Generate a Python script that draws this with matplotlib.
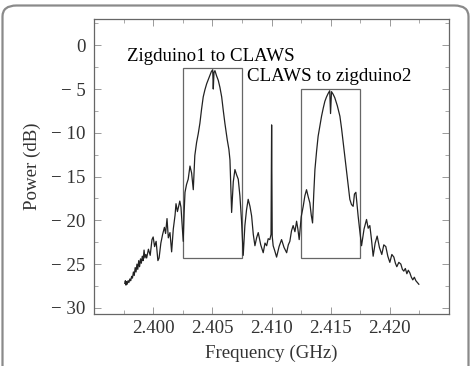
import matplotlib
matplotlib.use("Agg")
import matplotlib.pyplot as plt
from matplotlib.patches import FancyBboxPatch, Rectangle
from matplotlib.ticker import MultipleLocator

plt.rcParams['font.family'] = ['Liberation Serif', 'DejaVu Serif']
plt.rcParams['font.size'] = 13.6

# 측정 스펙트럼 (GHz, dB)
freq = [2.39760, 2.39765, 2.39770, 2.39775, 2.39780, 2.39788, 2.39795, 2.39803,
        2.39810, 2.39818, 2.39825, 2.39833, 2.39840, 2.39848, 2.39855, 2.39863,
        2.39870, 2.39878, 2.39885, 2.39893, 2.39900, 2.39908, 2.39915, 2.39923,
        2.39930, 2.39938, 2.39945, 2.39960, 2.39975, 2.39990, 2.40000, 2.40012,
        2.40025, 2.40040, 2.40050, 2.40065, 2.40080, 2.40095, 2.40105, 2.40117,
        2.40128, 2.40142, 2.40156, 2.40170, 2.40185, 2.40193, 2.40205, 2.40212,
        2.40225, 2.40235, 2.40245, 2.40254, 2.40262, 2.40269, 2.40282, 2.40296,
        2.40305, 2.40311, 2.40325, 2.40339, 2.40352, 2.40367, 2.40381, 2.40395,
        2.40409, 2.40423, 2.40437, 2.40452, 2.40466, 2.40480, 2.40492, 2.40503,
        2.40508, 2.40514, 2.40522, 2.40536, 2.40550, 2.40564, 2.40579, 2.40592,
        2.40606, 2.40626, 2.40640, 2.40649, 2.40656, 2.40663, 2.40677, 2.40691,
        2.40705, 2.40719, 2.40733, 2.40747, 2.40761, 2.40775, 2.40789, 2.40803,
        2.40818, 2.40832, 2.40846, 2.40860, 2.40874, 2.40888, 2.40909, 2.40930,
        2.40945, 2.40959, 2.40972, 2.40986, 2.40996, 2.41001, 2.41006, 2.41014,
        2.41028, 2.41043, 2.41064, 2.41085, 2.41106, 2.41128, 2.41142, 2.41155,
        2.41169, 2.41183, 2.41198, 2.41212, 2.41223, 2.41234, 2.41251, 2.41268,
        2.41282, 2.41296, 2.41310, 2.41324, 2.41336, 2.41347, 2.41357, 2.41367,
        2.41381, 2.41394, 2.41409, 2.41423, 2.41437, 2.41451, 2.41465, 2.41479,
        2.41492, 2.41499, 2.41507, 2.41521, 2.41535, 2.41556, 2.41578, 2.41592,
        2.41606, 2.41620, 2.41634, 2.41648, 2.41662, 2.41676, 2.41690, 2.41701,
        2.41713, 2.41722, 2.41732, 2.41746, 2.41761, 2.41782, 2.41803, 2.41817,
        2.41831, 2.41845, 2.41859, 2.41876, 2.41893, 2.41912, 2.41932, 2.41949,
        2.41966, 2.41983, 2.42000, 2.42017, 2.42034, 2.42047, 2.42059, 2.42076,
        2.42093, 2.42106, 2.42118, 2.42131, 2.42144, 2.42156, 2.42169, 2.42182,
        2.42194, 2.42207, 2.42220, 2.42232, 2.42245]
power = [-27.2, -26.9, -27.4, -27.0, -27.3, -26.9, -27.1, -26.7,
         -26.9, -26.4, -26.6, -25.9, -26.3, -25.4, -25.9, -25.0,
         -25.6, -24.6, -25.3, -24.4, -24.9, -24.1, -24.6, -23.4,
         -24.3, -23.9, -24.3, -23.3, -24.0, -22.2, -21.9, -23.0,
         -22.4, -24.6, -24.3, -22.6, -21.6, -20.8, -21.5, -19.8,
         -22.0, -21.4, -23.6, -21.0, -19.4, -18.1, -19.0, -18.6,
         -17.8, -18.5, -20.5, -22.4, -19.0, -16.8, -15.9, -15.3,
         -14.4, -13.8, -14.6, -16.5, -12.6, -11.1, -10.1, -8.9,
         -7.3, -5.9, -5.1, -4.4, -3.9, -3.4, -3.0, -2.8,
         -5.0, -3.1, -2.9, -3.5, -4.0, -4.8, -5.9, -7.4,
         -8.9, -10.8, -11.9, -13.1, -16.2, -19.1, -15.6, -14.2,
         -14.8, -15.3, -17.2, -20.1, -24.0, -20.6, -18.8, -17.6,
         -18.4, -19.5, -21.6, -22.9, -22.0, -21.4, -22.8, -23.7,
         -22.6, -22.9, -22.1, -22.2, -21.6, -9.1, -21.8, -22.9,
         -23.5, -24.2, -23.0, -22.2, -23.1, -23.7, -22.8, -22.4,
         -21.2, -20.6, -21.3, -20.1, -21.0, -22.2, -19.6, -18.4,
         -17.2, -16.5, -17.3, -18.0, -19.4, -20.3, -17.0, -14.2,
         -12.1, -10.4, -9.2, -8.1, -7.2, -6.4, -5.9, -5.5,
         -5.2, -7.8, -5.3, -5.6, -6.0, -6.9, -8.1, -9.5,
         -11.1, -12.6, -14.2, -15.9, -17.6, -18.2, -18.4, -17.0,
         -16.8, -18.1, -19.5, -21.2, -22.9, -21.0, -19.9, -20.9,
         -20.6, -22.2, -24.1, -22.6, -21.8, -23.1, -23.9, -22.8,
         -23.0, -24.1, -24.8, -23.9, -24.2, -24.9, -25.3, -24.8,
         -25.0, -25.6, -25.8, -25.5, -26.1, -25.7, -26.0, -26.5,
         -26.8, -26.5, -26.9, -27.1, -27.3]

# 상자 (왼쪽 주파수, 오른쪽 주파수, 위, 아래)
box1 = (2.4025, 2.4075, -2.6, -24.3)
box2 = (2.4125, 2.4175, -5.0, -24.3)
box_labels = ["Zigduino1 to CLAWS", "CLAWS to zigduino2"]

xticks = [2.400, 2.405, 2.410, 2.415, 2.420]
xticklabels = ["2.400", "2.405", "2.410", "2.415", "2.420"]
yticks = [0, -5, -10, -15, -20, -25, -30]
yticklabels = ["0", "− 5", "− 10", "− 15", "− 20", "− 25", "− 30"]

fig = plt.figure(figsize=(4.7, 3.66), dpi=100)

# 바깥 테두리
border = FancyBboxPatch((2.5 / 470, -0.05), 466 / 470, 1.05 - 5.5 / 366,
                        boxstyle="round,pad=0,rounding_size=0.03",
                        transform=fig.transFigure, fill=False,
                        edgecolor="#8a8a8a", linewidth=1.6)
fig.patches.append(border)

ax = fig.add_axes([94 / 470, 1 - 314 / 366, 355 / 470, 295 / 366])

ax.plot(freq, power, color="#222222", linewidth=0.9)

for b in (box1, box2):
    ax.add_patch(Rectangle((b[0], b[3]), b[1] - b[0], b[2] - b[3],
                           fill=False, edgecolor="#666666", linewidth=0.9))

ax.text(2.39779, -1.25, box_labels[0], va="center", ha="left")
ax.text(2.40792, -3.6, box_labels[1], va="center", ha="left")

ax.set_xlim(2.395, 2.425)
ax.set_ylim(-30.7, 3.0)
ax.set_xticks(xticks)
ax.set_xticklabels(xticklabels)
ax.set_yticks(yticks)
ax.set_yticklabels(yticklabels)
ax.xaxis.set_minor_locator(MultipleLocator(0.0025))
ax.yaxis.set_minor_locator(MultipleLocator(2.5))
ax.tick_params(which="both", direction="in", top=True, right=True,
               color="#9a9a9a", labelcolor="#333333")
ax.tick_params(which="major", length=5, width=0.7, pad=6)
ax.tick_params(axis="x", which="major", pad=4)
ax.tick_params(which="minor", length=3, width=0.6)
for s in ax.spines.values():
    s.set_color("#666666")
    s.set_linewidth(0.9)

ax.set_xlabel("Frequency (GHz)", labelpad=6, color="#333333")
ax.set_ylabel("Power (dB)", labelpad=7, color="#333333")

fig.savefig("out.png", dpi=100)
